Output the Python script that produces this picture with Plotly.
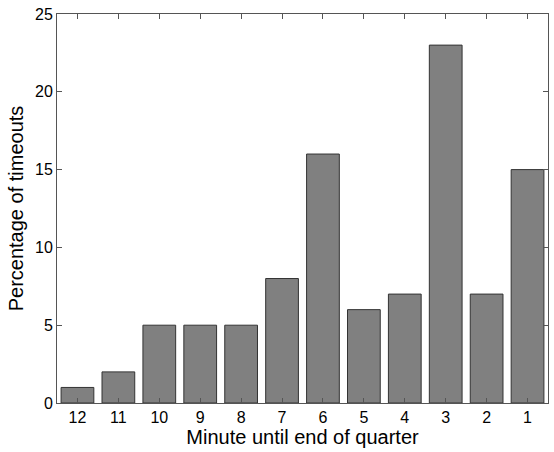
import plotly.graph_objects as go

minutes = ["12", "11", "10", "9", "8", "7", "6", "5", "4", "3", "2", "1"]
pct_timeouts = [1, 2, 5, 5, 5, 8, 16, 6, 7, 23, 7, 15]
y_ticks = [0, 5, 10, 15, 20, 25]

fig = go.Figure()
fig.add_trace(
    go.Bar(
        x=minutes,
        y=pct_timeouts,
        width=0.8,
        marker=dict(color="#808080", line=dict(color="#333333", width=1)),
    )
)

axis_style = dict(
    showline=True,
    linecolor="#555555",
    linewidth=1,
    mirror="ticks",
    ticks="inside",
    ticklen=5,
    tickcolor="#555555",
    showgrid=False,
    zeroline=False,
    automargin=False,
    tickfont=dict(size=16, color="black"),
)

fig.update_layout(
    width=554,
    height=452,
    margin=dict(l=57, r=6, t=14, b=49),
    plot_bgcolor="white",
    paper_bgcolor="white",
    font=dict(family="Liberation Sans, Arial, sans-serif", color="black"),
    showlegend=False,
    bargap=0.2,
)
fig.update_xaxes(
    **axis_style,
    categoryorder="array",
    categoryarray=minutes,
    range=[-0.5, 11.5],
    title=dict(text="Minute until end of quarter", font=dict(size=20), standoff=2),
)
fig.update_yaxes(
    **axis_style,
    range=[0, 25],
    tickvals=y_ticks,
    title=dict(text="Percentage of timeouts", font=dict(size=20), standoff=6),
)

# page body has a default 8px margin, drop it so the figure sits at 0,0
fig.write_html(
    "out.html",
    config={"displayModeBar": False},
    post_script="document.body.style.margin='0';",
)
